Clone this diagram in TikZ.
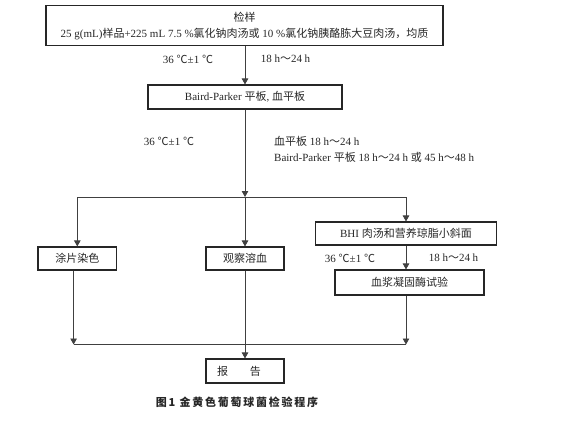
\documentclass[tikz,border=0pt]{standalone}
\usepackage{fontspec}
\setmainfont{Liberation Serif}
\newfontfamily\cjkfont{Noto Sans CJK SC}
\newfontfamily\capfont[LetterSpace=16]{Noto Sans CJK SC}
\newcommand\zh[1]{{\cjkfont #1}}
\usetikzlibrary{arrows.meta,calc}
\tikzset{
 box/.style={draw=black!85, line width=1.1pt, inner sep=0pt, text=black!85, font=\fontsize{11}{16}\selectfont, align=center},
 conn/.style={draw=black!75, line width=0.9pt},
 arr/.style={conn, -{Triangle[length=6pt,width=6.5pt]}},
 lbl/.style={inner sep=0pt, text=black!85, font=\fontsize{11}{13}\selectfont},
}
\begin{document}
\begin{tikzpicture}[x=1pt,y=-1pt]
\useasboundingbox (0,0) rectangle (576,421);
% boxes
\node[box, minimum width=397pt, minimum height=40pt] (top) at (244.5,25.7)
  {\zh{检样}\\ 25 g(mL)\zh{样品}+225 mL 7.5 \%\zh{氯化钠肉汤或} 10 \%\zh{氯化钠胰酪胨大豆肉汤，均质}};
\node[box, minimum width=194pt, minimum height=24pt] (bp) at (245,97)
  {Baird-Parker \zh{平板}, \zh{血平板}};
\node[box, minimum width=78.6pt, minimum height=23pt] (smear) at (77.3,258.5) {\zh{涂片染色}};
\node[box, minimum width=78pt, minimum height=23pt] (hemo) at (245,258.5) {\zh{观察溶血}};
\node[box, minimum width=181.5pt, minimum height=23pt] (bhi) at (406,233.5) {BHI \zh{肉汤和营养琼脂小斜面}};
\node[box, minimum width=149pt, minimum height=25pt] (coag) at (409.5,282.5) {\zh{血浆凝固酶试验}};
\node[box, minimum width=78pt, minimum height=24pt] (report) at (245,371)
  {\makebox[78pt][l]{\hspace{11pt}\zh{报}\hspace{22pt}\zh{告}}};
% labels
\node[lbl] (l1) at (188,59) {36 \zh{℃}±1 \zh{℃}};
\node[lbl] (l2) at (285.5,59) {18 h\zh{～}24 h};
\node[lbl] (l3) at (169,141) {36 \zh{℃}±1 \zh{℃}};
\node[lbl, anchor=west] (l4) at (274,141) {\zh{血平板} 18 h\zh{～}24 h};
\node[lbl, anchor=west] (l5) at (274,157) {Baird-Parker \zh{平板} 18 h\zh{～}24 h \zh{或} 45 h\zh{～}48 h};
\node[lbl] (l6) at (350,258) {36 \zh{℃}±1 \zh{℃}};
\node[lbl] (l7) at (453.5,258) {18 h\zh{～}24 h};
\node[lbl, font=\fontsize{11}{13}\capfont\bfseries] (cap) at (237,402) {图1\hspace{0.4em}金黄色葡萄球菌检验程序};
% coordinates
\coordinate (j) at (245,197);
\coordinate (jl) at (77.3,197);
\coordinate (jr) at (406,197);
\coordinate (bl) at (73.6,344.5);
\coordinate (br) at (406,344.5);
% connectors
\draw[arr] (top.south -| bp.north) -- (bp.north);
\draw[arr] (bp.south) -- (j);
\draw[conn] (jl) -- (jr);
\draw[arr] (jl) -- (smear.north);
\draw[arr] (j) -- (hemo.north);
\draw[arr] (jr) -- (bhi.north);
\draw[arr] (bhi.south) -- (bhi.south |- coag.north);
\draw[arr] (smear.south -| bl) -- (bl);
\draw[arr] (coag.south -| br) -- (br);
\draw[conn] (bl) -- (br);
\draw[arr] (hemo.south) -- (report.north);
\end{tikzpicture}
\end{document}
